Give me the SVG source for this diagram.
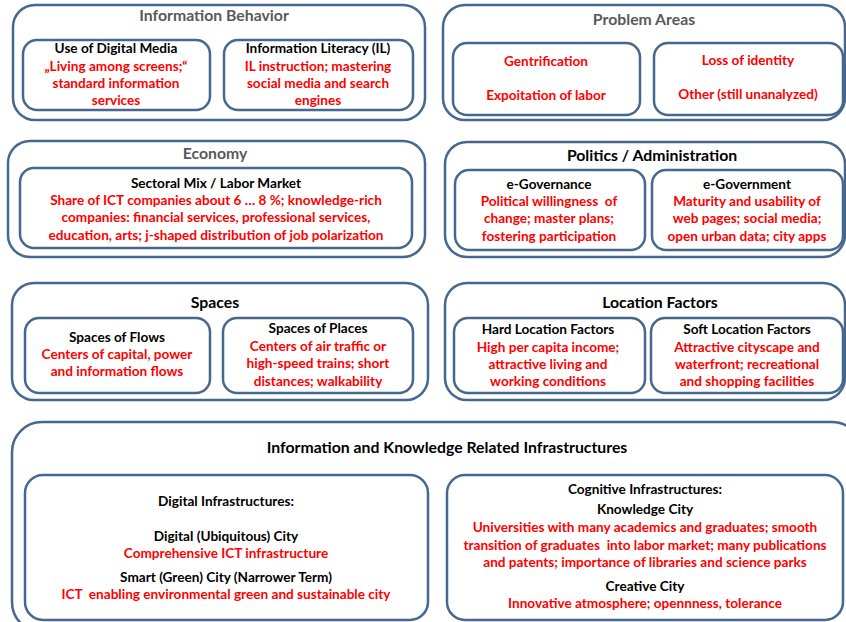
<svg xmlns="http://www.w3.org/2000/svg" width="846" height="622" viewBox="0 0 846 622">
<style>
text{font-family:Lato,"Liberation Sans",sans-serif;font-weight:bold;text-anchor:middle}
.o{fill:#fff;stroke:#46688f;stroke-width:2.5}
.i{fill:#fff;stroke:#46688f;stroke-width:2.5}
.tg{font-size:15.8px;fill:#595959}
.tb{font-size:15.8px;fill:#000}
.h{font-size:13.6px;fill:#000}
.r{font-size:13.6px;fill:#ff0000}
</style>
<rect width="846" height="622" fill="#fff"/>
<g id="information-behavior">
<rect class="o" x="13" y="5" width="412" height="115" rx="22"/>
<text class="tg" x="214" y="21">Information Behavior</text>
<g id="use-of-digital-media">
<rect class="i" x="23" y="40" width="187" height="70" rx="14"/>
<text class="h" x="116" y="53">Use of Digital Media</text>
<text class="r" x="116" y="71">„Living among screens;“</text>
<text class="r" x="116" y="88">standard information</text>
<text class="r" x="116" y="105">services</text>
</g>
<g id="information-literacy">
<rect class="i" x="224" y="40" width="189" height="70" rx="14"/>
<text class="h" x="318" y="53">Information Literacy (IL)</text>
<text class="r" x="318" y="71">IL instruction; mastering</text>
<text class="r" x="318" y="88">social media and search</text>
<text class="r" x="318" y="105">engines</text>
</g>
</g>
<g id="problem-areas">
<rect class="o" x="443" y="5" width="402" height="115" rx="22"/>
<text class="tg" x="644" y="25">Problem Areas</text>
<g id="problems-1">
<rect class="i" x="453" y="43" width="187" height="72" rx="14"/>
<text class="r" x="546" y="66">Gentrification</text>
<text class="r" x="546" y="100">Expoitation of labor</text>
</g>
<g id="problems-2">
<rect class="i" x="654" y="43" width="189" height="72" rx="14"/>
<text class="r" x="748" y="65">Loss of identity</text>
<text class="r" x="748" y="99">Other (still unanalyzed)</text>
</g>
</g>
<g id="economy">
<rect class="o" x="8" y="141" width="417" height="116" rx="22"/>
<text class="tg" x="215" y="159">Economy</text>
<g id="sectoral-mix">
<rect class="i" x="20" y="168" width="392" height="80" rx="14"/>
<text class="h" x="216" y="188">Sectoral Mix / Labor Market</text>
<text class="r" x="216" y="205">Share of ICT companies about 6 … 8 %; knowledge-rich</text>
<text class="r" x="216" y="222">companies: financial services, professional services,</text>
<text class="r" x="216" y="240">education, arts; j-shaped distribution of job polarization</text>
</g>
</g>
<g id="politics">
<rect class="o" x="445" y="142" width="400" height="115" rx="22"/>
<text class="tb" x="652" y="161">Politics / Administration</text>
<g id="e-governance">
<rect class="i" x="455" y="170" width="190" height="80" rx="14"/>
<text class="h" x="549" y="189">e-Governance</text>
<text class="r" x="549" y="206" xml:space="preserve">Political willingness  of</text>
<text class="r" x="549" y="223">change; master plans;</text>
<text class="r" x="549" y="241">fostering participation</text>
</g>
<g id="e-government">
<rect class="i" x="652" y="170" width="191" height="80" rx="14"/>
<text class="h" x="747" y="189">e-Government</text>
<text class="r" x="747" y="206">Maturity and usability of</text>
<text class="r" x="747" y="223">web pages; social media;</text>
<text class="r" x="747" y="241">open urban data; city apps</text>
</g>
</g>
<g id="spaces">
<rect class="o" x="12" y="283" width="416" height="117" rx="22"/>
<text class="tb" x="215" y="308">Spaces</text>
<g id="spaces-of-flows">
<rect class="i" x="25" y="318" width="185" height="75" rx="14"/>
<text class="h" x="117" y="342">Spaces of Flows</text>
<text class="r" x="117" y="359">Centers of capital, power</text>
<text class="r" x="117" y="376">and information flows</text>
</g>
<g id="spaces-of-places">
<rect class="i" x="223" y="318" width="190" height="75" rx="14"/>
<text class="h" x="318" y="333">Spaces of Places</text>
<text class="r" x="318" y="351">Centers of air traffic or</text>
<text class="r" x="318" y="368">high-speed trains; short</text>
<text class="r" x="318" y="386">distances; walkability</text>
</g>
</g>
<g id="location-factors">
<rect class="o" x="445" y="283" width="400" height="117" rx="22"/>
<text class="tb" x="660" y="308">Location Factors</text>
<g id="hard-location">
<rect class="i" x="454" y="318" width="191" height="75" rx="14"/>
<text class="h" x="548" y="334">Hard Location Factors</text>
<text class="r" x="548" y="352">High per capita income;</text>
<text class="r" x="548" y="369">attractive living and</text>
<text class="r" x="548" y="386">working conditions</text>
</g>
<g id="soft-location">
<rect class="i" x="651" y="318" width="192" height="75" rx="14"/>
<text class="h" x="747" y="334">Soft Location Factors</text>
<text class="r" x="747" y="352">Attractive cityscape and</text>
<text class="r" x="747" y="369">waterfront; recreational</text>
<text class="r" x="747" y="386">and shopping facilities</text>
</g>
</g>
<g id="infrastructures">
<rect class="o" x="12" y="422" width="850" height="210" rx="30"/>
<text class="tb" x="447" y="453">Information and Knowledge Related Infrastructures</text>
<g id="digital-infrastructures">
<rect class="i" x="25" y="475" width="403" height="145" rx="18"/>
<text class="h" x="226" y="506">Digital Infrastructures:</text>
<text class="h" x="226" y="541">Digital (Ubiquitous) City</text>
<text class="r" x="226" y="558">Comprehensive ICT infrastructure</text>
<text class="h" x="226" y="582">Smart (Green) City (Narrower Term)</text>
<text class="r" x="226" y="599" xml:space="preserve">ICT  enabling environmental green and sustainable city</text>
</g>
<g id="cognitive-infrastructures">
<rect class="i" x="447" y="475" width="396" height="145" rx="18"/>
<text class="h" x="645" y="494">Cognitive Infrastructures:</text>
<text class="h" x="645" y="514">Knowledge City</text>
<text class="r" x="645" y="532">Universities with many academics and graduates; smooth</text>
<text class="r" x="645" y="550" xml:space="preserve">transition of graduates  into labor market; many publications</text>
<text class="r" x="645" y="567">and patents; importance of libraries and science parks</text>
<text class="h" x="645" y="591">Creative City</text>
<text class="r" x="645" y="608">Innovative atmosphere; opennness, tolerance</text>
</g>
</g>
</svg>
